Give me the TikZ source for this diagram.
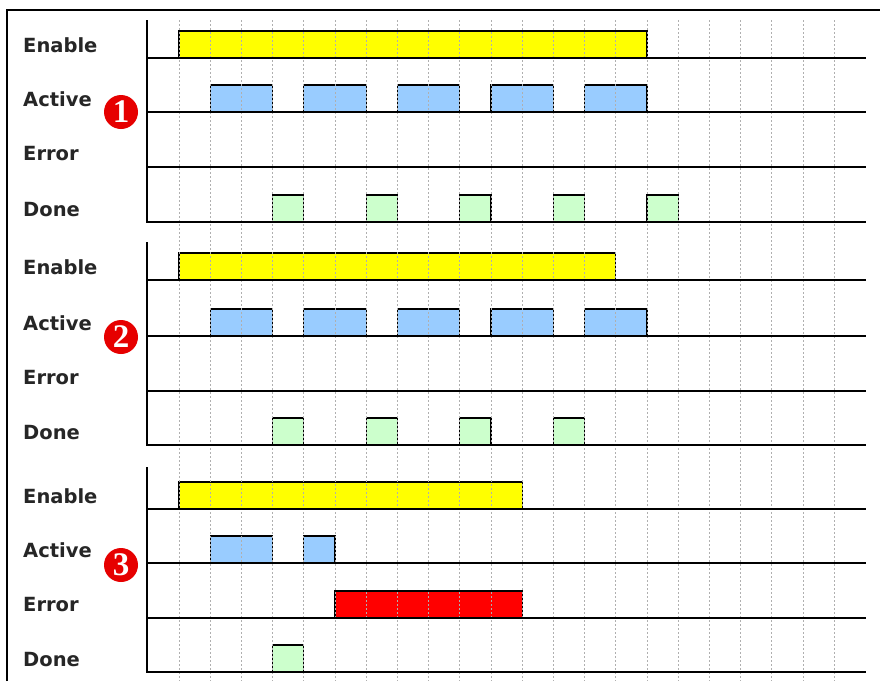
\documentclass[tikz,border=0pt]{standalone}
\usepackage{fontspec}
\setmainfont{DejaVu Sans}
\newfontfamily\numfont{Liberation Serif}
\definecolor{enyellow}{RGB}{255,255,0}
\definecolor{acblue}{RGB}{153,204,255}
\definecolor{dngreen}{RGB}{204,255,204}
\definecolor{erred}{RGB}{255,0,0}
\definecolor{numred}{RGB}{230,0,0}
\definecolor{gridgray}{RGB}{175,175,175}
\newcommand\sigpulse[4]{\draw[pulsebox, fill=#1] ({179+31.2*#2},#4) rectangle ({179+31.2*#3},{#4-27});}
\begin{document}
\begin{tikzpicture}[x=1pt,y=-1pt,
  lbl/.style={anchor=base west, inner sep=0pt, font=\fontsize{19.5}{20}\selectfont\bfseries, text=black!85},
  num/.style={circle, fill=numred, inner sep=0pt, minimum size=34pt, text=white, font=\numfont\bfseries\fontsize{33}{33}\selectfont},
  pulsebox/.style={draw=black, line width=1.1pt},
  gridline/.style={draw=gridgray, line width=0.9pt, dash pattern=on 2pt off 2pt},
  baseline/.style={draw=black, line width=2.9pt},
  axisline/.style={draw=black, line width=2.9pt}]
\useasboundingbox (0,0) rectangle (880,681);
\fill[white] (0,0) rectangle (880,681);
% frame
\draw[line width=2.2pt] (7,681) -- (7,10) -- (880,10);

% section 1 pulses
\sigpulse{enyellow}{0}{15}{58}
\foreach \a/\b in {1/3,4/6,7/9,10/12,13/15} {\sigpulse{acblue}{\a}{\b}{112}}
\foreach \a/\b in {3/4,6/7,9/10,12/13,15/16} {\sigpulse{dngreen}{\a}{\b}{222}}
% section 2 pulses
\sigpulse{enyellow}{0}{14}{280}
\foreach \a/\b in {1/3,4/6,7/9,10/12,13/15} {\sigpulse{acblue}{\a}{\b}{336}}
\foreach \a/\b in {3/4,6/7,9/10,12/13} {\sigpulse{dngreen}{\a}{\b}{445}}
% section 3 pulses
\sigpulse{enyellow}{0}{11}{509}
\sigpulse{acblue}{1}{3}{563}
\sigpulse{acblue}{4}{5}{563}
\sigpulse{erred}{5}{11}{618}
\sigpulse{dngreen}{3}{4}{672}

% grid
\foreach \k in {0,...,21} {\draw[gridline] ({179+31.2*\k},20) -- ({179+31.2*\k},681);}

% axes, baselines, labels
\foreach \s/\t/\ea/\ac/\er/\dn/\cy in {1/20/58/112/167/222/112, 2/242/280/336/391/445/337, 3/467/509/563/618/672/565} {
  \draw[axisline] (147,\t) -- (147,\dn) -- (866,\dn);
  \foreach \b in {\ea,\ac,\er} {\draw[baseline] (147,\b) -- (866,\b);}
  \node[lbl] (en\s) at (23,{\ea-6}) {Enable};
  \node[lbl] (ac\s) at (23,{\ac-6}) {Active};
  \node[lbl] (er\s) at (23,{\er-7}) {Error};
  \node[lbl] (dn\s) at (23,{\dn-6}) {Done};
  \node[num] (c\s) at (121,\cy) {\s};
}
\end{tikzpicture}
\end{document}
